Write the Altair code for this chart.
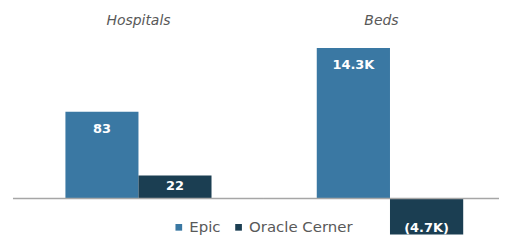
import altair as alt
import pandas as pd

# ---- data ----
series = ["Epic", "Oracle Cerner"]
hospitals = [83, 22]
beds = [14300, -4700]
colors = ["#3A78A3", "#1B3E52"]

FONT = "DejaVu Sans"
H = 203


def panel(title, values, domain, fmt_expr, width, pad_outer, align):
    df = pd.DataFrame({"series": series, "value": values})
    base = alt.Chart(df).transform_calculate(label=fmt_expr)
    x = alt.X("series:N", sort=series, axis=None,
              scale=alt.Scale(paddingInner=0, paddingOuter=pad_outer, align=align))
    y = alt.Y("value:Q", axis=None,
              scale=alt.Scale(domain=domain, nice=False))
    color = alt.Color("series:N", sort=series,
                      scale=alt.Scale(domain=series, range=colors),
                      legend=alt.Legend(title=None, orient="none",
                                        direction="horizontal",
                                        legendX=159, legendY=188,
                                        symbolType="square", symbolSize=45,
                                        symbolStrokeWidth=0,
                                        labelFont=FONT, labelFontSize=15,
                                        labelColor="#595959",
                                        labelOffset=3, columnPadding=10))
    bars = base.mark_bar(stroke=None, clip=True).encode(
        x=x, y=y, y2=alt.datum(0), color=color)
    rule = alt.Chart(pd.DataFrame({"z": [0]})).mark_rule(
        color="#A6A6A6", strokeWidth=1.5).encode(y=alt.Y("z:Q", axis=None))
    txt = dict(font=FONT, fontSize=13, fontWeight="bold", color="white")
    t_epic = base.transform_filter("datum.value >= 0 && datum.series == 'Epic'").mark_text(
        baseline="top", dy=11, **txt).encode(x=x, y=y, text="label:N")
    t_short = base.transform_filter("datum.value >= 0 && datum.series != 'Epic'").mark_text(
        baseline="top", dy=5, **txt).encode(x=x, y=y, text="label:N")
    t_neg = base.transform_filter("datum.value < 0").mark_text(
        baseline="alphabetic", dy=-16, **txt).encode(x=x, y=y, text="label:N")
    return alt.layer(bars, rule, t_epic, t_short, t_neg).properties(
        width=width, height=H,
        title=alt.TitleParams(title, fontStyle="italic", fontSize=14, font=FONT,
                              color="#595959", fontWeight="normal", offset=4))


p1 = panel("Hospitals", hospitals, [-34.4, 158.8], "format(datum.value, 'd')",
           252, 0.718, 0.5)
p2 = panel("Beds", beds, [-3420, 15790],
           "datum.value < 0 ? '(' + format(-datum.value / 1000, '.1f') + 'K)' : format(datum.value / 1000, '.1f') + 'K'",
           236, 0.605, 0.596)

chart = alt.hconcat(p1, p2, spacing=0, bounds="flush").properties(
    padding={"left": 4, "top": 6, "right": 0, "bottom": 0}
).configure_view(stroke=None)

chart.save("out.html", embed_options={"renderer": "svg", "actions": False})
